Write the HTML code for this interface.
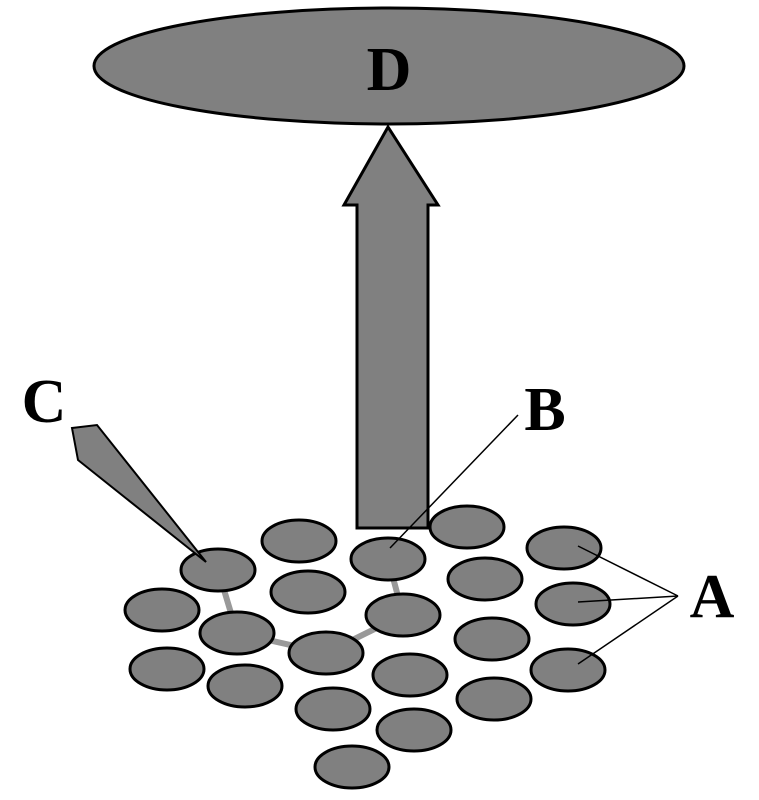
<!DOCTYPE html>
<html><head><style>body{margin:0;background:#fff}svg{display:block}</style></head><body>
<svg width="759" height="800" viewBox="0 0 759 800" xmlns="http://www.w3.org/2000/svg">
<g fill="#808080" stroke="#000" stroke-width="3">
<ellipse cx="389" cy="66" rx="295" ry="58"/>
<polygon points="388,127 438,205 428,205 428,528 357,528 357,205 344,205"/>
</g>
<g stroke="#999" stroke-width="6" fill="none">
<polyline points="218,570 237,633 326,653 403,615 388,559"/>
</g>
<g fill="#808080" stroke="#000" stroke-width="3">
<ellipse cx="218" cy="570" rx="37" ry="21"/>
<ellipse cx="299" cy="541" rx="37" ry="21"/>
<ellipse cx="388" cy="559" rx="37" ry="21"/>
<ellipse cx="467" cy="527" rx="37" ry="21"/>
<ellipse cx="564" cy="548" rx="37" ry="21"/>
<ellipse cx="162" cy="610" rx="37" ry="21"/>
<ellipse cx="308" cy="592" rx="37" ry="21"/>
<ellipse cx="485" cy="579" rx="37" ry="21"/>
<ellipse cx="573" cy="604" rx="37" ry="21"/>
<ellipse cx="237" cy="633" rx="37" ry="21"/>
<ellipse cx="403" cy="615" rx="37" ry="21"/>
<ellipse cx="492" cy="639" rx="37" ry="21"/>
<ellipse cx="326" cy="653" rx="37" ry="21"/>
<ellipse cx="167" cy="669" rx="37" ry="21"/>
<ellipse cx="568" cy="670" rx="37" ry="21"/>
<ellipse cx="245" cy="686" rx="37" ry="21"/>
<ellipse cx="410" cy="675" rx="37" ry="21"/>
<ellipse cx="494" cy="699" rx="37" ry="21"/>
<ellipse cx="333" cy="709" rx="37" ry="21"/>
<ellipse cx="414" cy="730" rx="37" ry="21"/>
<ellipse cx="352" cy="767" rx="37" ry="21"/>
<polygon points="72,428 97,425 206,562 78,460" stroke-width="2"/>
</g>
<g stroke="#000" stroke-width="1.5">
<line x1="390" y1="548" x2="518" y2="415"/>
<line x1="678" y1="596" x2="578" y2="546"/>
<line x1="678" y1="596" x2="578" y2="602"/>
<line x1="678" y1="596" x2="578" y2="664"/>
</g>
<g font-family="Liberation Serif, serif" font-weight="bold" font-size="62" fill="#000" text-anchor="middle">
<text x="389" y="90">D</text>
<text x="44" y="422">C</text>
<text x="545" y="430">B</text>
<text x="712" y="617">A</text>
</g>
</svg>
</body></html>
